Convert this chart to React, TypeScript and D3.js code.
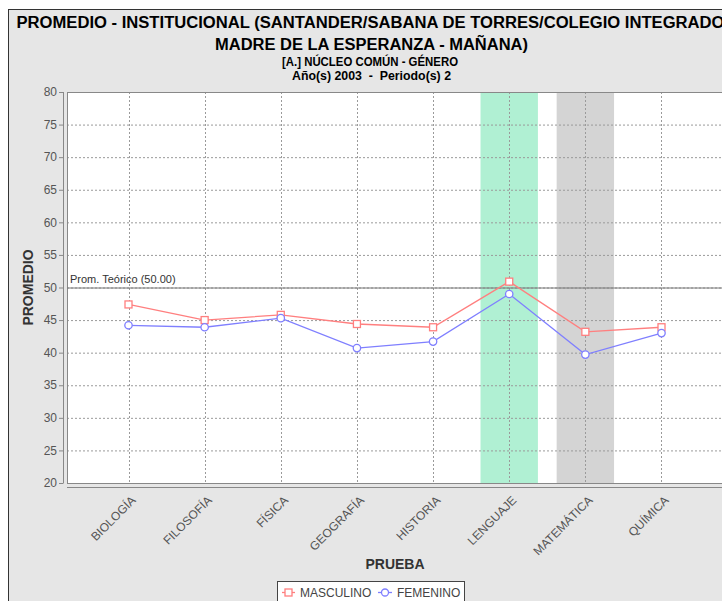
import React from "react";
import * as d3 from "d3";

const categories = ["BIOLOGÍA", "FILOSOFÍA", "FÍSICA", "GEOGRAFÍA", "HISTORIA", "LENGUAJE", "MATEMÁTICA", "QUÍMICA"];
const masculino = [47.4, 45.0, 45.8, 44.4, 43.9, 50.9, 43.2, 43.9];
const femenino = [44.2, 43.9, 45.3, 40.7, 41.7, 49.0, 39.7, 43.0];
const yTicks = [20, 25, 30, 35, 40, 45, 50, 55, 60, 65, 70, 75, 80];
const highlightHigh = "LENGUAJE";
const highlightLow = "MATEMÁTICA";
const promTeorico = 50;

const FONT = "'Liberation Sans', Arial, sans-serif";

export default function App() {
  const plotL = 67, plotR = 723, plotT = 92, plotB = 483;
  const W = plotR - plotL;
  const x = d3
    .scaleBand<string>()
    .domain(categories)
    .range([plotL + 0.05 * W, plotR - 0.05 * W])
    .paddingInner(0.24615)
    .paddingOuter(0);
  const cx = (c: string) => (x(c) as number) + x.bandwidth() / 2;
  const y = d3.scaleLinear().domain([20, 80]).range([plotB, plotT]);

  const line = d3
    .line<number>()
    .x((_, i) => cx(categories[i]))
    .y((d) => y(d));

  const red = "#ff7f7f";
  const blue = "#7f7fff";
  const grid = "#9a9a9a";

  return (
    <svg width={722} height={601} style={{ position: "absolute", left: 0, top: 0, background: "#fff" }}>
      <rect x={8.5} y={9.5} width={730} height={600} fill="#e6e6e6" stroke="#333" strokeWidth={1} />
      {/* titles */}
      <text x={16.5} y={28} fontFamily={FONT} fontWeight="bold" fontSize={16} fill="#000" textLength={708} lengthAdjust="spacingAndGlyphs">
        PROMEDIO - INSTITUCIONAL (SANTANDER/SABANA DE TORRES/COLEGIO INTEGRADO
      </text>
      <text x={215} y={50} fontFamily={FONT} fontWeight="bold" fontSize={16} fill="#000" textLength={313} lengthAdjust="spacingAndGlyphs">
        MADRE DE LA ESPERANZA - MAÑANA)
      </text>
      <text x={282} y={66} fontFamily={FONT} fontWeight="bold" fontSize={12} fill="#000" textLength={176} lengthAdjust="spacingAndGlyphs">
        [A.] NÚCLEO COMÚN - GÉNERO
      </text>
      <text x={292} y={80} fontFamily={FONT} fontWeight="bold" fontSize={12} fill="#000" textLength={159} lengthAdjust="spacingAndGlyphs" style={{ whiteSpace: "pre" }}>
        {"Año(s) 2003  -  Periodo(s) 2"}
      </text>

      {/* plot background */}
      <rect x={plotL} y={plotT} width={W} height={plotB - plotT} fill="#fff" />
      {/* highlight bands */}
      <rect x={x(highlightHigh)} y={plotT} width={x.bandwidth()} height={plotB - plotT} fill="#b0f0d3" />
      <rect x={x(highlightLow)} y={plotT} width={x.bandwidth()} height={plotB - plotT} fill="#d4d4d4" />

      {/* gridlines */}
      {yTicks.map((t) => (
        <line key={"h" + t} x1={plotL} x2={plotR} y1={y(t) + 0.5} y2={y(t) + 0.5} stroke={grid} strokeDasharray="2,2" strokeWidth={1} />
      ))}
      {categories.map((c) => (
        <line key={"v" + c} x1={Math.round(cx(c)) + 0.5} x2={Math.round(cx(c)) + 0.5} y1={plotT} y2={plotB} stroke={grid} strokeDasharray="2,2" strokeWidth={1} />
      ))}
      {/* plot outline */}
      <rect x={plotL + 0.5} y={plotT + 0.5} width={W} height={plotB - plotT} fill="none" stroke="#888" strokeWidth={1} />

      {/* theoretical mean marker */}
      <line x1={plotL} x2={plotR} y1={y(promTeorico) + 0.5} y2={y(promTeorico) + 0.5} stroke="#777" strokeWidth={1} />
      <text x={plotL + 3} y={y(promTeorico) - 5} fontFamily={FONT} fontSize={11} fill="#333">
        Prom. Teórico (50.00)
      </text>

      {/* y axis */}
      <line x1={63.5} x2={63.5} y1={plotT} y2={plotB} stroke="#888" strokeWidth={1} />
      {yTicks.map((t) => (
        <g key={"yt" + t}>
          <line x1={59} x2={63.5} y1={y(t) + 0.5} y2={y(t) + 0.5} stroke="#888" />
          <text x={57} y={y(t)} dy="0.35em" textAnchor="end" fontFamily={FONT} fontSize={12} fill="#555">
            {t}
          </text>
        </g>
      ))}
      <text transform={`translate(33,${(plotT + plotB) / 2}) rotate(-90)`} textAnchor="middle" fontFamily={FONT} fontWeight="bold" fontSize={14} fill="#333">
        PROMEDIO
      </text>

      {/* x axis */}
      <line x1={plotL} x2={plotR} y1={487.5} y2={487.5} stroke="#888" strokeWidth={1} />
      {categories.map((c) => (
        <text key={"xl" + c} transform={`translate(${cx(c) + 8},${501}) rotate(-45)`} textAnchor="end" fontFamily={FONT} fontSize={12} fill="#555">
          {c}
        </text>
      ))}
      <text x={(plotL + plotR) / 2} y={569} textAnchor="middle" fontFamily={FONT} fontWeight="bold" fontSize={14} fill="#333">
        PRUEBA
      </text>

      {/* series */}
      <path d={line(masculino) || ""} fill="none" stroke={red} strokeWidth={1.3} />
      <path d={line(femenino) || ""} fill="none" stroke={blue} strokeWidth={1.3} />
      {masculino.map((v, i) => (
        <rect key={"m" + i} x={cx(categories[i]) - 3.5} y={y(v) - 3.5} width={7} height={7} fill="#fff" stroke={red} strokeWidth={1.3} />
      ))}
      {femenino.map((v, i) => (
        <circle key={"f" + i} cx={cx(categories[i])} cy={y(v)} r={3.7} fill="#fff" stroke={blue} strokeWidth={1.3} />
      ))}

      {/* legend */}
      <rect x={277.5} y={581.5} width={187} height={24} fill="#fff" stroke="#444" strokeWidth={1} />
      <line x1={282} x2={295} y1={592.5} y2={592.5} stroke={red} strokeWidth={1.3} />
      <rect x={285} y={589} width={7} height={7} fill="#fff" stroke={red} strokeWidth={1.3} />
      <text x={300} y={597} fontFamily={FONT} fontSize={12} fill="#444">MASCULINO</text>
      <line x1={378} x2={392} y1={592.5} y2={592.5} stroke={blue} strokeWidth={1.3} />
      <circle cx={385} cy={592.5} r={3.5} fill="#fff" stroke={blue} strokeWidth={1.3} />
      <text x={397} y={597} fontFamily={FONT} fontSize={12} fill="#444">FEMENINO</text>
    </svg>
  );
}
